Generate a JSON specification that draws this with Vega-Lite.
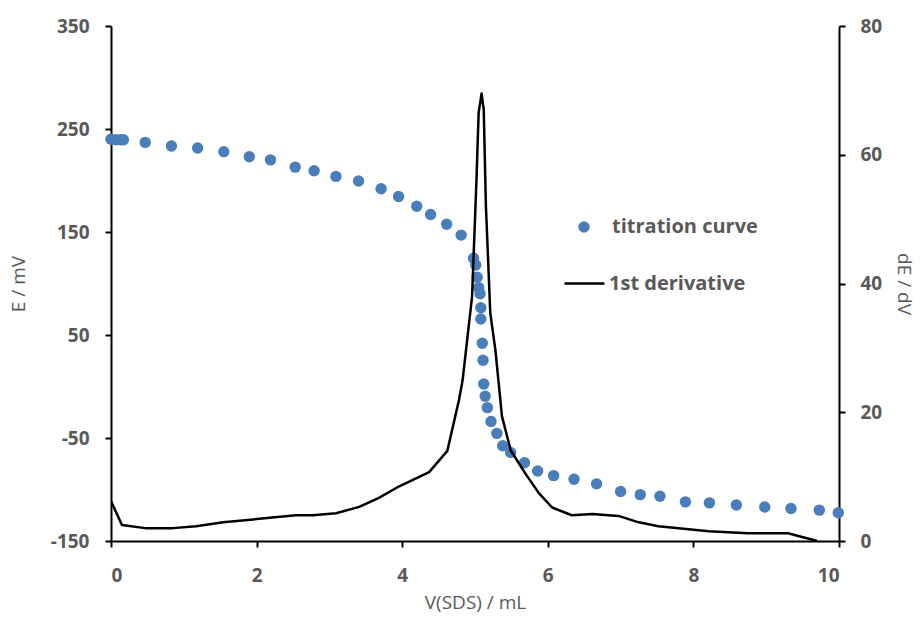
{
  "$schema": "https://vega.github.io/schema/vega-lite/v6.json",
  "width": 728,
  "height": 515,
  "autosize": "none",
  "padding": {"left": 111, "top": 26, "right": 81, "bottom": 85},
  "background": "white",
  "datasets": {
    "titration": [
      {"V": 0.0, "E": 240}, {"V": 0.07, "E": 239.5}, {"V": 0.13, "E": 239.5}, {"V": 0.17, "E": 239.5},
      {"V": 0.47, "E": 237}, {"V": 0.83, "E": 233.5}, {"V": 1.19, "E": 231.5}, {"V": 1.55, "E": 228},
      {"V": 1.90, "E": 223}, {"V": 2.19, "E": 220}, {"V": 2.53, "E": 213}, {"V": 2.79, "E": 209.5},
      {"V": 3.09, "E": 204}, {"V": 3.40, "E": 199.5}, {"V": 3.71, "E": 192}, {"V": 3.95, "E": 184.5},
      {"V": 4.20, "E": 175}, {"V": 4.39, "E": 167}, {"V": 4.61, "E": 157.5}, {"V": 4.81, "E": 147},
      {"V": 4.98, "E": 124.5}, {"V": 5.01, "E": 118}, {"V": 5.03, "E": 106}, {"V": 5.05, "E": 96},
      {"V": 5.07, "E": 90}, {"V": 5.08, "E": 76.5}, {"V": 5.08, "E": 65.5}, {"V": 5.10, "E": 42},
      {"V": 5.11, "E": 25.5}, {"V": 5.12, "E": 2.5}, {"V": 5.14, "E": -9.5}, {"V": 5.17, "E": -20.5},
      {"V": 5.22, "E": -34}, {"V": 5.30, "E": -45.5}, {"V": 5.38, "E": -57.5}, {"V": 5.49, "E": -64},
      {"V": 5.68, "E": -74}, {"V": 5.86, "E": -82}, {"V": 6.08, "E": -86.5}, {"V": 6.36, "E": -90},
      {"V": 6.67, "E": -94.5}, {"V": 7.00, "E": -102}, {"V": 7.27, "E": -105}, {"V": 7.54, "E": -106.5},
      {"V": 7.89, "E": -112}, {"V": 8.22, "E": -113}, {"V": 8.59, "E": -115}, {"V": 8.98, "E": -117},
      {"V": 9.34, "E": -118.5}, {"V": 9.73, "E": -120}, {"V": 9.99, "E": -122.5}
    ],
    "derivative": [
      {"V": 0.0, "D": 6.2}, {"V": 0.15, "D": 2.5}, {"V": 0.47, "D": 2.0}, {"V": 0.85, "D": 2.0},
      {"V": 1.17, "D": 2.3}, {"V": 1.54, "D": 2.9}, {"V": 2.0, "D": 3.4}, {"V": 2.54, "D": 4.0},
      {"V": 2.77, "D": 4.0}, {"V": 3.09, "D": 4.3}, {"V": 3.41, "D": 5.3}, {"V": 3.68, "D": 6.7},
      {"V": 3.96, "D": 8.5}, {"V": 4.37, "D": 10.7}, {"V": 4.62, "D": 14.0}, {"V": 4.78, "D": 21.9},
      {"V": 4.83, "D": 25}, {"V": 4.96, "D": 38}, {"V": 5.02, "D": 56}, {"V": 5.05, "D": 66.5},
      {"V": 5.09, "D": 69.5}, {"V": 5.12, "D": 67}, {"V": 5.15, "D": 52}, {"V": 5.21, "D": 35.4},
      {"V": 5.28, "D": 29.7}, {"V": 5.37, "D": 19.4}, {"V": 5.49, "D": 14.1}, {"V": 5.69, "D": 10.5},
      {"V": 5.88, "D": 7.4}, {"V": 6.06, "D": 5.2}, {"V": 6.33, "D": 4.0}, {"V": 6.61, "D": 4.2},
      {"V": 6.97, "D": 3.9}, {"V": 7.25, "D": 2.9}, {"V": 7.52, "D": 2.3}, {"V": 8.21, "D": 1.5},
      {"V": 8.75, "D": 1.2}, {"V": 9.30, "D": 1.2}, {"V": 9.70, "D": 0}
    ]
  },
  "config": {
    "view": {"stroke": null},
    "axis": {
      "grid": false,
      "domainColor": "black",
      "domainWidth": 2,
      "tickColor": "black",
      "tickWidth": 2,
      "tickSize": 6,
      "labelFont": "Open Sans",
      "labelFontSize": 19,
      "labelFontWeight": "bold",
      "labelColor": "#595959",
      "labelExpr": "'' + datum.value",
      "titleFont": "Open Sans",
      "titleFontSize": 19,
      "titleFontWeight": "normal",
      "titleColor": "#595959"
    },
    "legend": {
      "labelFont": "Open Sans",
      "labelFontSize": 20,
      "labelFontWeight": "bold",
      "labelColor": "#595959",
      "padding": 0
    }
  },
  "layer": [
    {
      "data": {"name": "titration"},
      "mark": {"type": "point", "filled": true, "opacity": 1, "size": 130},
      "encoding": {
        "x": {
          "field": "V", "type": "quantitative",
          "scale": {"domain": [0, 10], "nice": false},
          "axis": {"values": [0, 2, 4, 6, 8, 10], "title": "V(SDS) / mL", "labelPadding": 19, "titlePadding": 8}
        },
        "y": {
          "field": "E", "type": "quantitative",
          "scale": {"domain": [-150, 350], "nice": false, "zero": false},
          "axis": {"values": [-150, -50, 50, 150, 250, 350], "title": "E / mV", "orient": "left", "labelPadding": 16, "titlePadding": 22}
        },
        "color": {
          "datum": "titration curve",
          "type": "nominal",
          "scale": {"range": ["#4a7ebb"]},
          "legend": {
            "orient": "none", "legendX": 463, "legendY": 191, "title": null,
            "symbolType": "circle", "symbolSize": 130, "labelOffset": 18
          }
        }
      }
    },
    {
      "data": {"name": "derivative"},
      "mark": {"type": "line", "strokeWidth": 2.5, "strokeJoin": "round", "clip": true},
      "encoding": {
        "x": {"field": "V", "type": "quantitative"},
        "y": {
          "field": "D", "type": "quantitative",
          "scale": {"domain": [0, 80], "nice": false},
          "axis": {"values": [0, 20, 40, 60, 80], "title": "dE / dV", "orient": "right", "labelPadding": 15, "titlePadding": 12}
        },
        "color": {
          "datum": "1st derivative",
          "type": "nominal",
          "scale": {"range": ["black"]},
          "legend": {
            "orient": "none", "legendX": 452, "legendY": 236, "title": null,
            "symbolType": "stroke", "symbolSize": 1600, "symbolStrokeWidth": 2.5, "labelOffset": 3
          }
        }
      }
    }
  ],
  "resolve": {"scale": {"y": "independent", "color": "independent"}, "legend": {"color": "independent"}}
}
